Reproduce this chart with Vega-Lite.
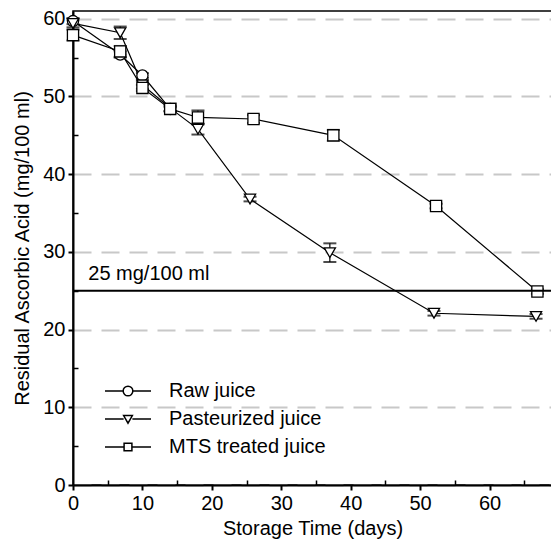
{
  "$schema": "https://vega.github.io/schema/vega-lite/v6.json",
  "width": 479,
  "height": 474,
  "autosize": {"type": "none"},
  "padding": {"left": 73, "top": 11, "right": 0, "bottom": 61},
  "background": "white",
  "config": {
    "font": "Liberation Sans",
    "view": {"stroke": "black", "strokeWidth": 1.5}
  },
  "datasets": {
    "measurements": [
      {"series": "Raw juice", "day": 0, "value": 59.7, "lower": 59.3, "upper": 60.1},
      {"series": "Raw juice", "day": 6.8, "value": 55.4, "lower": 55.0, "upper": 55.8},
      {"series": "Raw juice", "day": 10, "value": 52.7, "lower": 52.4, "upper": 53.0},
      {"series": "Raw juice", "day": 14, "value": 48.4, "lower": 48.1, "upper": 48.7},
      {"series": "Pasteurized juice", "day": 0, "value": 59.4, "lower": 58.9, "upper": 59.9},
      {"series": "Pasteurized juice", "day": 6.8, "value": 58.2, "lower": 57.4, "upper": 59.0},
      {"series": "Pasteurized juice", "day": 10, "value": 51.5, "lower": 51.0, "upper": 52.0},
      {"series": "Pasteurized juice", "day": 14, "value": 48.5, "lower": 48.1, "upper": 48.9},
      {"series": "Pasteurized juice", "day": 18, "value": 45.8, "lower": 45.1, "upper": 46.5},
      {"series": "Pasteurized juice", "day": 25.5, "value": 36.8, "lower": 36.5, "upper": 37.1},
      {"series": "Pasteurized juice", "day": 37, "value": 29.9, "lower": 28.7, "upper": 31.1},
      {"series": "Pasteurized juice", "day": 52, "value": 22.1, "lower": 21.8, "upper": 22.4},
      {"series": "Pasteurized juice", "day": 66.7, "value": 21.7, "lower": 21.4, "upper": 22.0},
      {"series": "MTS treated juice", "day": 0, "value": 57.9, "lower": 57.2, "upper": 58.6},
      {"series": "MTS treated juice", "day": 6.8, "value": 55.8, "lower": 55.1, "upper": 56.5},
      {"series": "MTS treated juice", "day": 10, "value": 51.1, "lower": 50.7, "upper": 51.5},
      {"series": "MTS treated juice", "day": 14, "value": 48.4, "lower": 48.1, "upper": 48.7},
      {"series": "MTS treated juice", "day": 18, "value": 47.3, "lower": 46.4, "upper": 48.2},
      {"series": "MTS treated juice", "day": 26, "value": 47.1, "lower": 46.6, "upper": 47.6},
      {"series": "MTS treated juice", "day": 37.5, "value": 45.0, "lower": 44.3, "upper": 45.7},
      {"series": "MTS treated juice", "day": 52.3, "value": 35.9, "lower": 35.6, "upper": 36.2},
      {"series": "MTS treated juice", "day": 66.9, "value": 24.9, "lower": 24.6, "upper": 25.2}
    ],
    "threshold": [
      {"day": 2.2, "value": 25, "label": "25 mg/100 ml"}
    ]
  },
  "resolve": {
    "scale": {"shape": "independent"},
    "axis": {"x": "independent", "y": "independent"}
  },
  "layer": [
    {
      "data": {"name": "measurements"},
      "mark": {
        "type": "errorbar",
        "ticks": {"size": 13, "thickness": 2, "color": "black"},
        "rule": {"strokeWidth": 1.2, "color": "black"}
      },
      "encoding": {
        "x": {"field": "day", "type": "quantitative", "scale": {"domain": [0, 69], "nice": false, "zero": false}, "axis": null},
        "y": {"field": "lower", "type": "quantitative", "scale": {"domain": [0, 61], "nice": false}, "axis": null},
        "y2": {"field": "upper"}
      }
    },
    {
      "data": {"name": "measurements"},
      "mark": {"type": "line", "color": "black", "strokeWidth": 1.2},
      "encoding": {
        "x": {"field": "day", "type": "quantitative", "scale": {"domain": [0, 69], "nice": false, "zero": false}, "axis": null},
        "y": {"field": "value", "type": "quantitative", "scale": {"domain": [0, 61], "nice": false}, "axis": null},
        "detail": {"field": "series", "type": "nominal"}
      }
    },
    {
      "data": {"name": "measurements"},
      "mark": {"type": "point", "filled": true, "fill": "white", "stroke": "black", "strokeWidth": 1.3, "size": 125, "opacity": 1},
      "encoding": {
        "x": {
          "field": "day", "type": "quantitative",
          "scale": {"domain": [0, 69], "nice": false, "zero": false},
          "axis": {
            "orient": "bottom",
            "values": [0, 10, 20, 30, 40, 50, 60],
            "title": "Storage Time (days)",
            "grid": false,
            "domainColor": "black", "domainWidth": 2,
            "tickColor": "black", "tickWidth": 2, "tickSize": 5,
            "labelFontSize": 20, "labelColor": "black", "labelPadding": 3, "labelFlush": false,
            "titleFontSize": 20, "titleFontWeight": "normal", "titleColor": "black", "titlePadding": 5
          }
        },
        "y": {
          "field": "value", "type": "quantitative",
          "scale": {"domain": [0, 61], "nice": false},
          "axis": {
            "orient": "left",
            "values": [0, 10, 20, 30, 40, 50, 60],
            "title": "Residual Ascorbic Acid (mg/100 ml)",
            "grid": true, "gridColor": "#c8c8c8", "gridDash": [18, 10], "gridWidth": 2,
            "domainColor": "black", "domainWidth": 2,
            "tickColor": "black", "tickWidth": 2, "tickSize": 5,
            "labelFontSize": 20, "labelColor": "black", "labelPadding": 3, "labelFlush": false,
            "titleFontSize": 20, "titleFontWeight": "normal", "titleColor": "black", "titlePadding": 10
          }
        },
        "shape": {
          "field": "series", "type": "nominal",
          "scale": {"domain": ["Raw juice", "Pasteurized juice", "MTS treated juice"], "range": ["circle", "triangle-down", "square"]},
          "legend": null
        }
      }
    },
    {
      "data": {"name": "measurements"},
      "transform": [{"filter": "datum.day < 0"}],
      "mark": {"type": "point", "filled": false, "color": "black", "strokeWidth": 1.5},
      "encoding": {
        "x": {"field": "day", "type": "quantitative", "scale": {"domain": [0, 69], "nice": false, "zero": false}, "axis": null},
        "y": {"field": "value", "type": "quantitative", "scale": {"domain": [0, 61], "nice": false}, "axis": null},
        "shape": {
          "field": "series", "type": "nominal",
          "scale": {
            "domain": ["Raw juice", "Pasteurized juice", "MTS treated juice"],
            "range": [
              "M-1,0H-0.21M0.21,0H1M-0.21,0A0.21,0.21,0,1,1,0.21,0A0.21,0.21,0,1,1,-0.21,0Z",
              "M-1,0H-0.19M0.19,0H1M-0.19,-0.15L0.19,-0.15L0,0.18Z",
              "M-1,0H-0.17M0.17,0H1M-0.17,-0.16H0.17V0.16H-0.17Z"
            ]
          },
          "legend": {
            "orient": "none", "legendX": 31, "legendY": 366,
            "title": null,
            "symbolSize": 2116,
            "symbolOpacity": 1,
            "symbolFillColor": "white", "symbolStrokeColor": "black", "symbolStrokeWidth": 1.5,
            "labelFontSize": 20, "labelColor": "black", "labelOffset": 17, "labelLimit": 400,
            "clipHeight": 28,
            "rowPadding": 0, "padding": 0
          }
        }
      }
    },
    {
      "data": {"name": "threshold"},
      "mark": {"type": "rule", "color": "black", "strokeWidth": 2},
      "encoding": {
        "y": {"field": "value", "type": "quantitative", "scale": {"domain": [0, 61], "nice": false}, "axis": null}
      }
    },
    {
      "data": {"name": "threshold"},
      "mark": {"type": "text", "align": "left", "baseline": "alphabetic", "dy": -11, "fontSize": 20, "color": "black"},
      "encoding": {
        "x": {
          "field": "day", "type": "quantitative",
          "scale": {"domain": [0, 69], "nice": false, "zero": false},
          "axis": {"orient": "bottom", "values": [5, 15, 25, 35, 45, 55, 65], "tickSize": -5, "tickWidth": 1.5, "tickColor": "black", "labels": false, "domain": false, "grid": false, "title": null, "zindex": 1}
        },
        "y": {
          "field": "value", "type": "quantitative",
          "scale": {"domain": [0, 61], "nice": false},
          "axis": {"orient": "left", "values": [5, 15, 25, 35, 45, 55], "tickSize": -5, "tickWidth": 1.5, "tickColor": "black", "labels": false, "domain": false, "grid": false, "title": null, "zindex": 1}
        },
        "text": {"field": "label", "type": "nominal"}
      }
    }
  ]
}
